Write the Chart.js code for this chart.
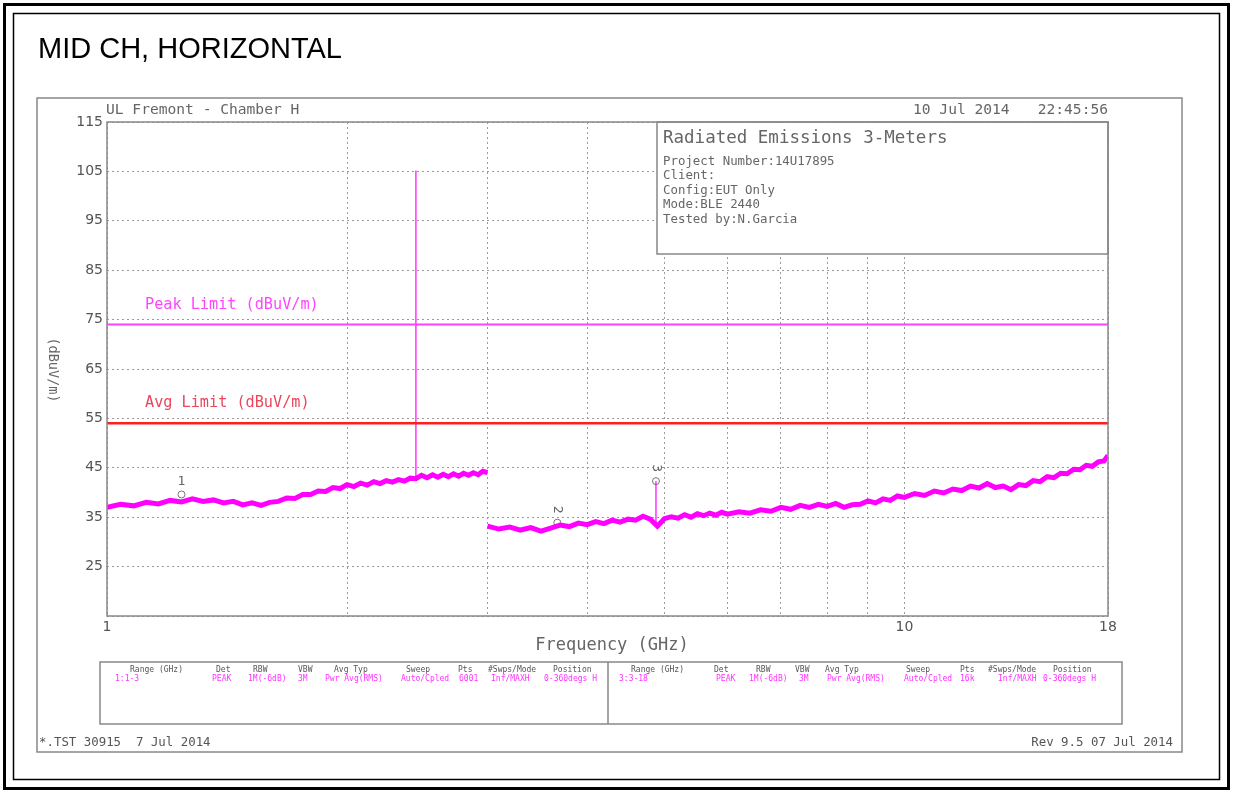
<!DOCTYPE html>
<html>
<head>
<meta charset="utf-8">
<title>MID CH, HORIZONTAL</title>
<script src="https://cdn.jsdelivr.net/npm/chart.js@4/dist/chart.umd.min.js"></script>
<style>
  html, body { margin: 0; padding: 0; background: #fff; }
  canvas { display: block; }
</style>
</head>
<body>
<canvas id="scan" width="1233" height="793"></canvas>
<script>
// Sweep 1: 1-3 GHz (GHz / dBuV/m)
const trace1Freq = [1.00,1.04,1.08,1.12,1.16,1.20,1.24,1.28,1.32,1.36,1.40,1.44,1.48,1.52,1.56,1.60,1.64,1.68,1.72,1.76,
  1.80,1.84,1.88,1.92,1.96,2.00,2.04,2.08,2.12,2.16,2.20,2.24,2.28,2.32,2.36,2.40,2.44,2.48,2.52,2.56,
  2.60,2.64,2.68,2.72,2.76,2.80,2.84,2.88,2.92,2.96,3.00];
const trace1Level = [37.0,37.6,37.3,38.0,37.7,38.4,38.1,38.7,38.2,38.5,37.9,38.2,37.5,37.9,37.4,38.0,38.2,38.9,38.8,39.6,
  39.6,40.3,40.2,41.0,40.8,41.6,41.2,41.9,41.5,42.2,41.8,42.4,42.1,42.6,42.3,42.9,42.8,43.5,43.0,43.6,
  43.1,43.7,43.2,43.8,43.3,43.9,43.5,44.0,43.6,44.3,44.0];

// Sweep 2: 3-18 GHz
const trace2Freq = [3.0,3.1,3.2,3.3,3.4,3.5,3.6,3.7,3.8,3.9,4.0,4.1,4.2,4.3,4.4,4.5,4.6,4.7,4.8,4.9,
  5.0,5.1,5.2,5.3,5.4,5.5,5.6,5.7,5.8,5.9,6.0,6.2,6.4,6.6,6.8,7.0,7.2,7.4,7.6,7.8,
  8.0,8.2,8.4,8.6,8.8,9.0,9.2,9.4,9.6,9.8,10.0,10.3,10.6,10.9,11.2,11.5,11.8,12.1,12.4,12.7,
  13.0,13.3,13.6,13.9,14.2,14.5,14.8,15.1,15.4,15.7,16.0,16.3,16.6,16.9,17.2,17.5,17.8,18.0];
const trace2Level = [33.2,32.6,33.0,32.4,32.9,32.2,32.8,33.4,33.1,33.8,33.5,34.1,33.7,34.4,34.0,34.6,34.4,35.2,34.6,33.2,
  34.7,35.1,34.8,35.5,35.0,35.7,35.3,35.8,35.4,36.0,35.6,36.1,35.8,36.5,36.2,37.0,36.6,37.4,37.0,37.6,
  37.2,37.8,37.0,37.5,37.6,38.3,37.9,38.7,38.4,39.3,39.0,39.8,39.4,40.3,39.9,40.7,40.4,41.3,40.9,41.8,
  41.0,41.3,40.6,41.6,41.4,42.4,42.2,43.2,43.0,43.9,43.8,44.7,44.6,45.5,45.3,46.2,46.4,47.5];

// BLE carrier at 2440 MHz and the spur under marker 3
const carrierFreq = [2.44, 2.44];
const carrierLevel = [43.0, 105.2];
const spurFreq = [4.88, 4.88];
const spurLevel = [33.4, 42.3];

// limit lines
const limitFreq = [1, 18];
const peakLimit = [74, 74];
const avgLimit = [54, 54];

// markers
const markerFreq = [1.24, 3.67, 4.88];
const markerLevel = [39.6, 33.9, 42.3];
const markerNames = ['1', '2', '3'];

// axes
const xGridFreq = [1, 2, 3, 4, 5, 6, 7, 8, 9, 10, 18];
const xLabelFreq = [1, 10, 18];
const yMin = 15, yMax = 115, yStep = 10;

// header / info text
const siteName = 'UL Fremont - Chamber H';
const scanDate = '10 Jul 2014';
const scanTime = '22:45:56';
const infoTitle = 'Radiated Emissions 3-Meters';
const infoLines = ['Project Number:14U17895', 'Client:', 'Config:EUT Only', 'Mode:BLE 2440', 'Tested by:N.Garcia'];

// settings table
const tableHeads = ['Range (GHz)', 'Det', 'RBW', 'VBW', 'Avg Typ', 'Sweep', 'Pts', '#Swps/Mode', 'Position'];
const range1Row = ['1:1-3', 'PEAK', '1M(-6dB)', '3M', 'Pwr Avg(RMS)', 'Auto/Cpled', '6001', 'Inf/MAXH', '0-360degs H'];
const range2Row = ['3:3-18', 'PEAK', '1M(-6dB)', '3M', 'Pwr Avg(RMS)', 'Auto/Cpled', '16k', 'Inf/MAXH', '0-360degs H'];

// column x positions for the table text
const head1X = [130, 216, 253, 298, 334, 406, 458, 488, 553];
const row1X  = [115, 212, 248, 298, 325, 401, 459, 491, 544];
const head2X = [631, 714, 756, 795, 825, 906, 960, 988, 1053];
const row2X  = [619, 716, 749, 799, 827, 904, 960, 998, 1043];

const MONO = '"DejaVu Sans Mono", monospace';
const GREY = '#666';
const MAGENTA = '#ff00ff';

const pts = (xs, ys) => xs.map((x, i) => ({ x: x, y: ys[i] }));

function text(ctx, s, x, y, size, color, align, font) {
  ctx.save();
  ctx.font = size + 'px ' + (font || MONO);
  ctx.fillStyle = color;
  ctx.textAlign = align || 'left';
  ctx.textBaseline = 'middle';
  ctx.fillText(s, x, y);
  ctx.restore();
}

const overlay = {
  id: 'overlay',
  beforeDraw(chart) {
    const ctx = chart.ctx;
    ctx.save();
    ctx.fillStyle = '#fff';
    ctx.fillRect(0, 0, chart.width, chart.height);
    ctx.restore();
  },
  afterDraw(chart) {
    const ctx = chart.ctx;
    const a = chart.chartArea;

    ctx.save();
    // page frame
    ctx.strokeStyle = '#000';
    ctx.lineWidth = 3;
    ctx.strokeRect(4.5, 4.5, 1224, 784);
    ctx.lineWidth = 1.5;
    ctx.strokeRect(13.5, 13.5, 1206, 766);

    // plotter sheet frame
    ctx.strokeStyle = '#888';
    ctx.lineWidth = 1.5;
    ctx.strokeRect(37, 98, 1145, 654);

    // plot frame
    ctx.strokeRect(a.left, a.top, a.right - a.left, a.bottom - a.top);

    // info box
    ctx.fillStyle = '#fff';
    ctx.fillRect(657, a.top + 1, a.right - 657 - 1, 132);
    ctx.strokeRect(657, a.top, a.right - 657, 132);

    // settings table
    ctx.strokeRect(100, 662, 1022, 62);
    ctx.beginPath();
    ctx.moveTo(608, 662);
    ctx.lineTo(608, 724);
    ctx.stroke();
    ctx.restore();

    text(ctx, 'MID CH, HORIZONTAL', 38, 50, 29, '#000', 'left', '"Liberation Sans", Arial, sans-serif');

    text(ctx, siteName, 106, 110, 14.6, GREY);
    text(ctx, scanDate, 913, 110, 14.6, GREY);
    text(ctx, scanTime, 1108, 110, 14.6, GREY, 'right');

    text(ctx, infoTitle, 663, 138, 17.5, GREY);
    const infoY = [162, 176, 191, 205, 220];
    infoLines.forEach((s, i) => text(ctx, s, 663, infoY[i], 12.4, GREY));

    text(ctx, 'Peak Limit (dBuV/m)', 145, 305, 15.2, '#ff44ff');
    text(ctx, 'Avg Limit (dBuV/m)', 145, 403, 15.2, '#e8475c');

    // axis titles
    text(ctx, 'Frequency (GHz)', 612, 646, 17, GREY, 'center');
    ctx.save();
    ctx.translate(52, 370);
    ctx.rotate(Math.PI / 2);
    text(ctx, '(dBuV/m)', 0, 0, 13.5, GREY, 'center');
    ctx.restore();

    // markers: number above the circle
    const mk = chart.getDatasetMeta(chart.data.datasets.length - 1).data;
    mk.forEach((p, i) => {
      ctx.save();
      ctx.translate(p.x, p.y - 13);
      if (i > 0) ctx.rotate(Math.PI / 2);
      text(ctx, markerNames[i], 0, 0, 13, GREY, 'center');
      ctx.restore();
    });

    // settings table text
    tableHeads.forEach((s, i) => {
      text(ctx, s, head1X[i], 670, 8, '#555');
      text(ctx, s, head2X[i], 670, 8, '#555');
    });
    range1Row.forEach((s, i) => text(ctx, s, row1X[i], 679, 8, '#ff33ff'));
    range2Row.forEach((s, i) => text(ctx, s, row2X[i], 679, 8, '#ff33ff'));

    text(ctx, '*.TST 30915  7 Jul 2014', 39, 743, 12.4, '#555');
    text(ctx, 'Rev 9.5 07 Jul 2014', 1173, 743, 12.4, '#555', 'right');
  }
};

const gridDash = [2, 3];

new Chart(document.getElementById('scan'), {
  type: 'line',
  data: {
    datasets: [
      { label: 'Peak Limit', data: pts(limitFreq, peakLimit), borderColor: '#ff40ff', borderWidth: 2 },
      { label: 'Avg Limit', data: pts(limitFreq, avgLimit), borderColor: '#ff1f1f', borderWidth: 2.5 },
      { label: '1-3 GHz', data: pts(trace1Freq, trace1Level), borderColor: MAGENTA, borderWidth: 5 },
      { label: '3-18 GHz', data: pts(trace2Freq, trace2Level), borderColor: MAGENTA, borderWidth: 5 },
      { label: 'Carrier', data: pts(carrierFreq, carrierLevel), borderColor: MAGENTA, borderWidth: 1.2 },
      { label: 'Spur', data: pts(spurFreq, spurLevel), borderColor: MAGENTA, borderWidth: 1.2 },
      {
        label: 'Markers', data: pts(markerFreq, markerLevel), showLine: false,
        pointRadius: 3.5, pointStyle: 'circle', pointBorderColor: '#777', pointBorderWidth: 1,
        pointBackgroundColor: 'rgba(255,255,255,0)'
      }
    ]
  },
  options: {
    responsive: false,
    animation: false,
    parsing: false,
    normalized: true,
    events: [],
    elements: {
      point: { radius: 0 },
      line: { tension: 0, borderJoinStyle: 'miter' }
    },
    layout: { padding: { left: 47, top: 122, right: 125, bottom: 137 } },
    plugins: {
      legend: { display: false },
      tooltip: { enabled: false }
    },
    scales: {
      x: {
        type: 'logarithmic',
        min: 1,
        max: 18,
        afterBuildTicks: s => { s.ticks = xGridFreq.map(v => ({ value: v })); },
        afterFit: s => { s.height = 40; s.paddingLeft = 0; s.paddingRight = 0; },
        ticks: {
          autoSkip: false,
          maxRotation: 0,
          padding: 3,
          color: '#555',
          font: { family: 'DejaVu Sans', size: 14 },
          callback: v => xLabelFreq.includes(v) ? String(v) : ''
        },
        grid: {
          drawTicks: false,
          color: '#9a9a9a',
          lineWidth: 1
        },
        border: { display: false, dash: gridDash }
      },
      y: {
        min: yMin,
        max: yMax,
        afterFit: s => { s.width = 60; s.paddingTop = 0; s.paddingBottom = 0; },
        ticks: {
          stepSize: yStep,
          padding: 4,
          color: '#555',
          font: { family: 'DejaVu Sans', size: 14 },
          callback: v => v === yMin ? '' : String(v)
        },
        grid: {
          drawTicks: false,
          color: '#9a9a9a',
          lineWidth: 1
        },
        border: { display: false, dash: gridDash }
      }
    }
  },
  plugins: [overlay]
});
</script>
</body>
</html>
